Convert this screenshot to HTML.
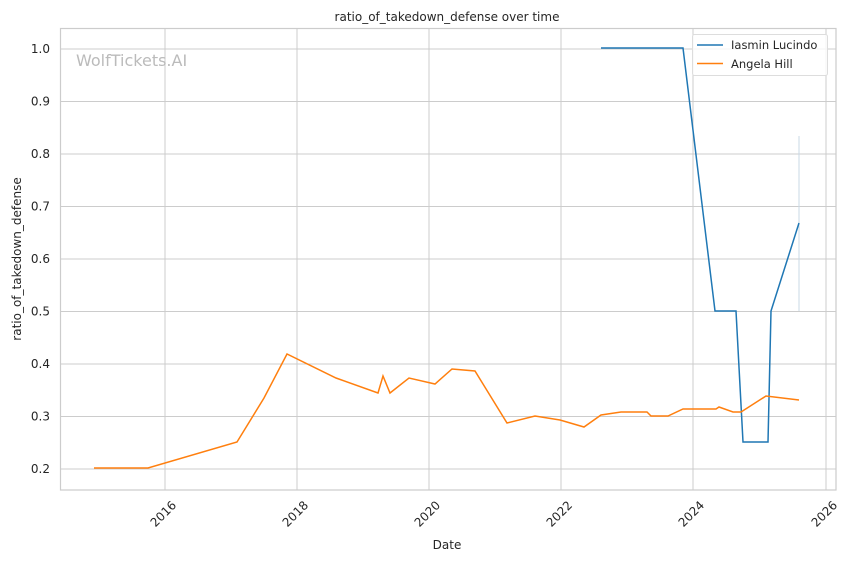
<!DOCTYPE html>
<html><head><style>body{margin:0;background:#fff}svg{display:block}text{font-family:"DejaVu Sans","Liberation Sans",sans-serif;fill:#262626}</style></head><body>
<svg width="851" height="561" xmlns="http://www.w3.org/2000/svg">
<rect x="60.5" y="28.5" width="775.5" height="461.5" fill="#fff" stroke="#cccccc" stroke-width="1.2"/>
<g stroke="#cccccc" stroke-width="1">
<line x1="165" y1="28" x2="165" y2="490"/><line x1="297" y1="28" x2="297" y2="490"/><line x1="429" y1="28" x2="429" y2="490"/><line x1="561" y1="28" x2="561" y2="490"/><line x1="693" y1="28" x2="693" y2="490"/><line x1="826" y1="28" x2="826" y2="490"/>
<line x1="60" y1="49" x2="836" y2="49"/><line x1="60" y1="101.5" x2="836" y2="101.5"/><line x1="60" y1="154" x2="836" y2="154"/><line x1="60" y1="206.5" x2="836" y2="206.5"/><line x1="60" y1="259" x2="836" y2="259"/><line x1="60" y1="311.5" x2="836" y2="311.5"/><line x1="60" y1="364" x2="836" y2="364"/><line x1="60" y1="416.5" x2="836" y2="416.5"/><line x1="60" y1="469" x2="836" y2="469"/>
</g>
<line x1="799" y1="136" x2="799" y2="311" stroke="#c8d8e6" stroke-width="1"/>
<text x="76" y="66" font-size="16" style="fill:#bbbbbb">WolfTickets.AI</text>
<polyline fill="none" stroke="#1f77b4" stroke-width="1.5" points="601,48 683,48 715,311 736,311 743,442 768,442 771,311 799,223"/>
<polyline fill="none" stroke="#ff7f0e" stroke-width="1.5" points="94,468 148,468 237,442 264,398 287,354 336,378 378,393 383,376 390,393 409,378 435,384 452,369 475,371 507,423 535,416 560,420 584,427 601,415 621,412 647,412 651,416 668,416 683,409 716,409 719,407 733,412 741,412 766,396 799,400"/>
<g font-size="12" text-anchor="end">
<text x="50" y="53">1.0</text><text x="50" y="105.5">0.9</text><text x="50" y="158">0.8</text><text x="50" y="210.5">0.7</text><text x="50" y="263">0.6</text><text x="50" y="315.5">0.5</text><text x="50" y="368">0.4</text><text x="50" y="420.5">0.3</text><text x="50" y="473">0.2</text>
</g>
<g font-size="12" text-anchor="end">
<text transform="translate(177,506) rotate(-45)">2016</text><text transform="translate(309,506) rotate(-45)">2018</text><text transform="translate(441,506) rotate(-45)">2020</text><text transform="translate(573,506) rotate(-45)">2022</text><text transform="translate(705,506) rotate(-45)">2024</text><text transform="translate(838,506) rotate(-45)">2026</text>
</g>
<text x="447" y="549" font-size="12" text-anchor="middle">Date</text>
<text transform="translate(21,259) rotate(-90)" font-size="12" text-anchor="middle">ratio_of_takedown_defense</text>
<text x="447" y="21" font-size="12" text-anchor="middle">ratio_of_takedown_defense over time</text>
<rect x="692.5" y="34.5" width="135" height="41" rx="2" fill="#fff" fill-opacity="0.8" stroke="#dddddd"/>
<line x1="697" y1="45" x2="723" y2="45" stroke="#1f77b4" stroke-width="1.5"/>
<line x1="697" y1="63.5" x2="723" y2="63.5" stroke="#ff7f0e" stroke-width="1.5"/>
<text x="731" y="49" font-size="11.5">Iasmin Lucindo</text>
<text x="731" y="68" font-size="11.5">Angela Hill</text>
</svg>
</body></html>
